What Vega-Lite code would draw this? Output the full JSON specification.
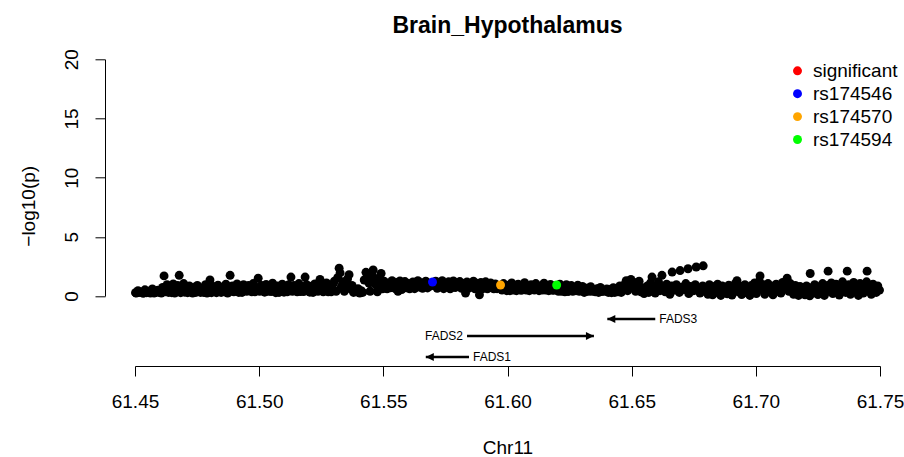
{
  "$schema": "https://vega.github.io/schema/vega-lite/v6.json",
  "width": 745,
  "height": 236.7,
  "autosize": {"type": "none"},
  "padding": {"left": 135, "top": 59.3, "right": 24, "bottom": 161},
  "background": "white",
  "config": {
    "font": "Liberation Sans",
    "view": {"stroke": null},
    "axis": {"labelColor": "black", "titleColor": "black", "domainColor": "black", "tickColor": "black", "grid": false, "labelFont": "Liberation Sans", "titleFont": "Liberation Sans", "titleFontWeight": "normal"}
  },
  "title": {"text": "Brain_Hypothalamus", "fontSize": 23, "fontWeight": "bold", "font": "Liberation Sans", "color": "black", "anchor": "middle", "frame": "group", "baseline": "alphabetic", "offset": -7},
  "datasets": {
    "snps": [
      {"pos":61.4502,"logp":0.28},{"pos":61.4505,"logp":0.25},{"pos":61.4512,"logp":0.45},{"pos":61.4518,"logp":0.30},{"pos":61.4526,"logp":0.33},{"pos":61.4533,"logp":0.22},{"pos":61.4540,"logp":0.52},{"pos":61.4547,"logp":0.28},{"pos":61.4555,"logp":0.40},{"pos":61.4562,"logp":0.25},{"pos":61.4570,"logp":0.60},{"pos":61.4577,"logp":0.25},{"pos":61.4585,"logp":0.30},{"pos":61.4592,"logp":0.48},{"pos":61.4599,"logp":0.30},
      {"pos":61.4606,"logp":0.25},{"pos":61.4611,"logp":0.72},{"pos":61.4617,"logp":1.70},{"pos":61.4622,"logp":0.35},{"pos":61.4629,"logp":0.95},{"pos":61.4635,"logp":0.30},{"pos":61.4641,"logp":0.62},{"pos":61.4648,"logp":0.28},{"pos":61.4654,"logp":1.02},{"pos":61.4660,"logp":0.25},{"pos":61.4666,"logp":0.55},{"pos":61.4672,"logp":0.88},{"pos":61.4678,"logp":1.75},{"pos":61.4684,"logp":0.28},{"pos":61.4690,"logp":0.70},{"pos":61.4696,"logp":1.05},{"pos":61.4700,"logp":0.32},
      {"pos":61.4706,"logp":0.62},{"pos":61.4712,"logp":0.28},{"pos":61.4719,"logp":0.85},{"pos":61.4725,"logp":0.38},{"pos":61.4732,"logp":0.25},{"pos":61.4738,"logp":0.72},{"pos":61.4745,"logp":0.30},{"pos":61.4751,"logp":0.90},{"pos":61.4758,"logp":0.45},{"pos":61.4764,"logp":0.30},{"pos":61.4771,"logp":0.68},{"pos":61.4777,"logp":0.30},{"pos":61.4784,"logp":0.95},{"pos":61.4790,"logp":0.25},{"pos":61.4796,"logp":0.58},{"pos":61.4802,"logp":1.35},{"pos":61.4808,"logp":0.28},{"pos":61.4815,"logp":0.80},{"pos":61.4821,"logp":0.42},{"pos":61.4828,"logp":0.28},{"pos":61.4834,"logp":0.92},{"pos":61.4841,"logp":0.55},{"pos":61.4847,"logp":0.30},{"pos":61.4854,"logp":0.75},{"pos":61.4860,"logp":0.35},{"pos":61.4866,"logp":1.00},{"pos":61.4873,"logp":0.25},{"pos":61.4879,"logp":0.60},
      {"pos":61.4883,"logp":1.75},{"pos":61.4886,"logp":0.40},{"pos":61.4892,"logp":0.85},{"pos":61.4898,"logp":0.35},{"pos":61.4905,"logp":0.65},{"pos":61.4911,"logp":1.02},{"pos":61.4918,"logp":0.30},{"pos":61.4924,"logp":0.78},{"pos":61.4931,"logp":0.30},{"pos":61.4937,"logp":0.95},{"pos":61.4944,"logp":0.48},{"pos":61.4950,"logp":0.40},{"pos":61.4957,"logp":0.88},{"pos":61.4963,"logp":0.58},{"pos":61.4970,"logp":0.35},{"pos":61.4976,"logp":1.05},{"pos":61.4983,"logp":0.35},{"pos":61.4989,"logp":0.72},{"pos":61.4996,"logp":1.50},{"pos":61.5002,"logp":0.40},{"pos":61.5009,"logp":0.90},{"pos":61.5015,"logp":0.55},{"pos":61.5022,"logp":0.32},{"pos":61.5028,"logp":0.98},{"pos":61.5035,"logp":0.40},{"pos":61.5041,"logp":0.70},{"pos":61.5048,"logp":0.38},{"pos":61.5054,"logp":1.08},{"pos":61.5061,"logp":0.50},{"pos":61.5067,"logp":0.28},{"pos":61.5074,"logp":0.85},{"pos":61.5080,"logp":0.30},{"pos":61.5087,"logp":0.62},{"pos":61.5093,"logp":1.00},{"pos":61.5100,"logp":0.32},{"pos":61.5106,"logp":0.75},{"pos":61.5113,"logp":0.35},{"pos":61.5119,"logp":0.95},{"pos":61.5125,"logp":0.45},{"pos":61.5128,"logp":1.60},
      {"pos":61.5134,"logp":0.40},{"pos":61.5140,"logp":0.88},{"pos":61.5147,"logp":0.55},{"pos":61.5153,"logp":0.35},{"pos":61.5160,"logp":1.05},{"pos":61.5166,"logp":0.38},{"pos":61.5173,"logp":0.70},{"pos":61.5179,"logp":0.38},{"pos":61.5185,"logp":1.60},{"pos":61.5191,"logp":0.95},{"pos":61.5198,"logp":0.42},{"pos":61.5204,"logp":0.32},{"pos":61.5211,"logp":0.82},{"pos":61.5217,"logp":0.30},{"pos":61.5224,"logp":1.02},{"pos":61.5230,"logp":0.60},{"pos":61.5237,"logp":0.40},{"pos":61.5243,"logp":0.90},{"pos":61.5245,"logp":1.40},{"pos":61.5252,"logp":0.48},{"pos":61.5258,"logp":0.35},{"pos":61.5265,"logp":0.78},{"pos":61.5271,"logp":1.10},{"pos":61.5278,"logp":0.35},
      {"pos":61.5284,"logp":0.65},{"pos":61.5290,"logp":0.35},{"pos":61.5297,"logp":1.00},{"pos":61.5303,"logp":1.25},{"pos":61.5310,"logp":0.40},{"pos":61.5316,"logp":1.55},{"pos":61.5322,"logp":2.35},{"pos":61.5326,"logp":1.95},{"pos":61.5331,"logp":0.80},{"pos":61.5337,"logp":1.20},{"pos":61.5343,"logp":0.40},{"pos":61.5349,"logp":0.95},{"pos":61.5356,"logp":1.45},{"pos":61.5362,"logp":1.80},{"pos":61.5368,"logp":0.60},{"pos":61.5374,"logp":0.90},{"pos":61.5380,"logp":0.30},
      {"pos":61.5386,"logp":0.50},{"pos":61.5392,"logp":0.35},{"pos":61.5398,"logp":0.62},{"pos":61.5405,"logp":0.25},{"pos":61.5411,"logp":0.45},{"pos":61.5417,"logp":0.30},
      {"pos":61.5423,"logp":1.35},{"pos":61.5430,"logp":2.00},{"pos":61.5436,"logp":1.60},{"pos":61.5442,"logp":1.10},{"pos":61.5447,"logp":0.40},{"pos":61.5453,"logp":1.85},{"pos":61.5459,"logp":2.20},{"pos":61.5465,"logp":1.50},{"pos":61.5470,"logp":0.95},{"pos":61.5476,"logp":0.35},{"pos":61.5482,"logp":1.40},{"pos":61.5487,"logp":1.15},{"pos":61.5491,"logp":1.90},{"pos":61.5497,"logp":0.60},
      {"pos":61.5503,"logp":1.25},{"pos":61.5509,"logp":0.85},{"pos":61.5515,"logp":0.60},{"pos":61.5522,"logp":1.10},{"pos":61.5528,"logp":0.70},{"pos":61.5535,"logp":1.30},{"pos":61.5541,"logp":0.95},{"pos":61.5548,"logp":0.62},{"pos":61.5554,"logp":1.15},{"pos":61.5559,"logp":0.40},{"pos":61.5561,"logp":0.80},{"pos":61.5567,"logp":1.28},{"pos":61.5574,"logp":0.55},{"pos":61.5580,"logp":0.98},{"pos":61.5587,"logp":1.22},{"pos":61.5593,"logp":0.70},{"pos":61.5600,"logp":1.05},{"pos":61.5606,"logp":0.60},{"pos":61.5613,"logp":0.88},{"pos":61.5619,"logp":1.18},{"pos":61.5626,"logp":0.62},{"pos":61.5632,"logp":1.00},{"pos":61.5639,"logp":1.30},{"pos":61.5645,"logp":0.75},{"pos":61.5652,"logp":1.12},{"pos":61.5658,"logp":0.65},{"pos":61.5665,"logp":0.95},{"pos":61.5671,"logp":1.25},{"pos":61.5678,"logp":0.68},{"pos":61.5684,"logp":1.08},{"pos":61.5691,"logp":0.85},
      {"pos":61.5704,"logp":0.90},{"pos":61.5711,"logp":1.25},{"pos":61.5717,"logp":0.65},{"pos":61.5724,"logp":1.10},{"pos":61.5730,"logp":0.80},{"pos":61.5737,"logp":1.30},{"pos":61.5743,"logp":0.62},{"pos":61.5750,"logp":1.05},{"pos":61.5756,"logp":0.85},{"pos":61.5763,"logp":1.20},{"pos":61.5769,"logp":0.60},{"pos":61.5776,"logp":1.00},{"pos":61.5782,"logp":1.28},{"pos":61.5789,"logp":0.72},{"pos":61.5795,"logp":1.12},{"pos":61.5802,"logp":0.90},{"pos":61.5808,"logp":1.22},{"pos":61.5815,"logp":0.65},{"pos":61.5821,"logp":1.05},{"pos":61.5828,"logp":0.80},{"pos":61.5831,"logp":0.25},{"pos":61.5837,"logp":1.18},{"pos":61.5843,"logp":0.65},{"pos":61.5850,"logp":1.00},{"pos":61.5856,"logp":0.85},{"pos":61.5863,"logp":1.25},{"pos":61.5869,"logp":0.60},{"pos":61.5876,"logp":1.08},{"pos":61.5882,"logp":0.75},{"pos":61.5887,"logp":0.10},{"pos":61.5893,"logp":1.15},{"pos":61.5899,"logp":0.60},{"pos":61.5906,"logp":0.95},{"pos":61.5912,"logp":1.20},{"pos":61.5919,"logp":0.60},{"pos":61.5925,"logp":0.88},{"pos":61.5932,"logp":1.10},{"pos":61.5938,"logp":0.70},{"pos":61.5945,"logp":0.60},{"pos":61.5951,"logp":1.02},{"pos":61.5958,"logp":0.62},{"pos":61.5964,"logp":0.85},
      {"pos":61.5978,"logp":0.50},{"pos":61.5984,"logp":1.05},{"pos":61.5991,"logp":0.60},{"pos":61.5997,"logp":0.45},{"pos":61.6004,"logp":0.92},{"pos":61.6010,"logp":0.45},{"pos":61.6017,"logp":1.10},{"pos":61.6023,"logp":0.50},{"pos":61.6030,"logp":0.78},{"pos":61.6036,"logp":0.45},{"pos":61.6043,"logp":1.00},{"pos":61.6049,"logp":0.52},{"pos":61.6056,"logp":0.48},{"pos":61.6062,"logp":0.88},{"pos":61.6069,"logp":1.12},{"pos":61.6075,"logp":0.50},{"pos":61.6082,"logp":0.70},{"pos":61.6088,"logp":0.45},{"pos":61.6095,"logp":0.95},{"pos":61.6101,"logp":0.58},{"pos":61.6108,"logp":0.50},{"pos":61.6114,"logp":1.05},{"pos":61.6121,"logp":0.65},{"pos":61.6127,"logp":0.45},{"pos":61.6134,"logp":0.85},{"pos":61.6140,"logp":0.50},{"pos":61.6147,"logp":1.08},{"pos":61.6153,"logp":0.50},{"pos":61.6160,"logp":0.75},{"pos":61.6166,"logp":0.45},{"pos":61.6173,"logp":0.98},{"pos":61.6179,"logp":0.50},{"pos":61.6186,"logp":0.48},{"pos":61.6192,"logp":0.82},
      {"pos":61.6205,"logp":0.40},{"pos":61.6211,"logp":1.00},{"pos":61.6218,"logp":0.40},{"pos":61.6224,"logp":0.72},{"pos":61.6231,"logp":0.35},{"pos":61.6237,"logp":0.95},{"pos":61.6244,"logp":0.38},{"pos":61.6250,"logp":0.60},{"pos":61.6257,"logp":0.88},{"pos":61.6263,"logp":0.40},{"pos":61.6270,"logp":0.70},{"pos":61.6276,"logp":0.45},{"pos":61.6283,"logp":0.92},{"pos":61.6289,"logp":0.40},{"pos":61.6296,"logp":0.55},{"pos":61.6302,"logp":0.80},{"pos":61.6309,"logp":0.30},{"pos":61.6315,"logp":0.38},{"pos":61.6322,"logp":0.65},{"pos":61.6328,"logp":0.40},{"pos":61.6335,"logp":0.78},{"pos":61.6341,"logp":0.40},{"pos":61.6348,"logp":0.50},{"pos":61.6354,"logp":0.35},{"pos":61.6361,"logp":0.62},{"pos":61.6367,"logp":0.30},{"pos":61.6374,"logp":0.72},{"pos":61.6380,"logp":0.38},{"pos":61.6387,"logp":0.48},{"pos":61.6393,"logp":0.40},{"pos":61.6400,"logp":0.60},
      {"pos":61.6406,"logp":0.30},{"pos":61.6413,"logp":0.55},{"pos":61.6419,"logp":0.28},{"pos":61.6426,"logp":0.70},{"pos":61.6432,"logp":0.30},{"pos":61.6439,"logp":0.62},{"pos":61.6445,"logp":0.35},{"pos":61.6452,"logp":0.85},{"pos":61.6458,"logp":0.30},{"pos":61.6465,"logp":0.58},{"pos":61.6471,"logp":0.95},
      {"pos":61.6478,"logp":1.30},{"pos":61.6484,"logp":0.45},{"pos":61.6491,"logp":1.05},{"pos":61.6497,"logp":1.40},{"pos":61.6504,"logp":0.70},{"pos":61.6510,"logp":1.15},{"pos":61.6516,"logp":0.40},{"pos":61.6523,"logp":0.90},{"pos":61.6530,"logp":1.25},
      {"pos":61.6537,"logp":0.35},{"pos":61.6543,"logp":0.70},{"pos":61.6550,"logp":0.20},{"pos":61.6556,"logp":0.55},{"pos":61.6563,"logp":0.85},{"pos":61.6569,"logp":0.30},{"pos":61.6576,"logp":1.10},{"pos":61.6582,"logp":1.60},{"pos":61.6588,"logp":0.65},{"pos":61.6595,"logp":0.25},{"pos":61.6601,"logp":0.90},{"pos":61.6608,"logp":1.20},{"pos":61.6614,"logp":0.45},{"pos":61.6622,"logp":1.75},{"pos":61.6628,"logp":0.80},{"pos":61.6635,"logp":0.35},{"pos":61.6641,"logp":1.00},{"pos":61.6648,"logp":0.60},{"pos":61.6654,"logp":0.15},{"pos":61.6661,"logp":0.85},{"pos":61.6663,"logp":2.02},{"pos":61.6673,"logp":0.50},{"pos":61.6680,"logp":0.95},{"pos":61.6695,"logp":2.15},{"pos":61.6692,"logp":0.30},{"pos":61.6699,"logp":0.75},{"pos":61.6711,"logp":0.55},{"pos":61.6718,"logp":1.05},{"pos":61.6727,"logp":2.30},{"pos":61.6730,"logp":0.20},{"pos":61.6737,"logp":0.80},{"pos":61.6750,"logp":0.45},{"pos":61.6756,"logp":0.95},{"pos":61.6760,"logp":2.45},{"pos":61.6769,"logp":0.65},{"pos":61.6775,"logp":0.25},{"pos":61.6788,"logp":2.55},{"pos":61.6786,"logp":0.85},{"pos":61.6794,"logp":0.40},
      {"pos":61.6800,"logp":0.70},{"pos":61.6807,"logp":0.15},{"pos":61.6813,"logp":0.95},{"pos":61.6820,"logp":0.45},{"pos":61.6826,"logp":0.10},{"pos":61.6833,"logp":0.80},{"pos":61.6839,"logp":0.30},{"pos":61.6846,"logp":1.00},{"pos":61.6852,"logp":0.55},{"pos":61.6859,"logp":0.05},{"pos":61.6865,"logp":0.85},{"pos":61.6872,"logp":0.40},{"pos":61.6878,"logp":0.68},{"pos":61.6885,"logp":0.18},{"pos":61.6891,"logp":0.92},{"pos":61.6898,"logp":0.50},{"pos":61.6904,"logp":0.08},{"pos":61.6911,"logp":0.75},{"pos":61.6917,"logp":1.05},{"pos":61.6924,"logp":1.30},{"pos":61.6930,"logp":0.35},{"pos":61.6937,"logp":0.82},{"pos":61.6943,"logp":0.12},{"pos":61.6950,"logp":0.60},{"pos":61.6956,"logp":0.95},{"pos":61.6963,"logp":0.28},{"pos":61.6969,"logp":0.70},{"pos":61.6976,"logp":0.05},{"pos":61.6982,"logp":0.88},{"pos":61.6989,"logp":0.45},{"pos":61.6995,"logp":1.10},{"pos":61.7002,"logp":0.20},{"pos":61.7008,"logp":0.78},{"pos":61.7014,"logp":1.25},{"pos":61.7017,"logp":1.70},{"pos":61.7023,"logp":0.55},{"pos":61.7030,"logp":0.95},{"pos":61.7036,"logp":0.15},{"pos":61.7043,"logp":0.70},{"pos":61.7049,"logp":1.05},{"pos":61.7056,"logp":0.35},{"pos":61.7062,"logp":0.85},{"pos":61.7069,"logp":0.10},{"pos":61.7075,"logp":0.62},{"pos":61.7082,"logp":1.00},{"pos":61.7088,"logp":0.40},
      {"pos":61.7095,"logp":0.90},{"pos":61.7101,"logp":0.25},{"pos":61.7108,"logp":1.15},{"pos":61.7114,"logp":0.60},{"pos":61.7121,"logp":0.95},{"pos":61.7126,"logp":1.50},{"pos":61.7133,"logp":0.40},{"pos":61.7139,"logp":1.05},{"pos":61.7146,"logp":0.75},{"pos":61.7152,"logp":0.15},{"pos":61.7159,"logp":0.90},{"pos":61.7165,"logp":0.50},{"pos":61.7172,"logp":0.05},{"pos":61.7178,"logp":0.80},{"pos":61.7185,"logp":0.30},{"pos":61.7191,"logp":0.65},{"pos":61.7198,"logp":0.10},{"pos":61.7204,"logp":0.85},{"pos":61.7211,"logp":0.40},{"pos":61.7217,"logp":0.02},{"pos":61.7219,"logp":1.90},{"pos":61.7224,"logp":0.70},{"pos":61.7230,"logp":0.25},{"pos":61.7237,"logp":0.95},{"pos":61.7243,"logp":0.50},{"pos":61.7250,"logp":0.12},{"pos":61.7256,"logp":0.78},{"pos":61.7263,"logp":0.35},{"pos":61.7269,"logp":1.05},{"pos":61.7276,"logp":0.05},{"pos":61.7282,"logp":0.60},{"pos":61.7289,"logp":0.90},{"pos":61.7291,"logp":2.10},{"pos":61.7297,"logp":0.40},{"pos":61.7304,"logp":1.10},{"pos":61.7310,"logp":0.20},{"pos":61.7317,"logp":0.75},{"pos":61.7323,"logp":1.00},{"pos":61.7330,"logp":0.45},{"pos":61.7336,"logp":0.08},{"pos":61.7343,"logp":0.88},{"pos":61.7349,"logp":1.20},{"pos":61.7356,"logp":0.55},{"pos":61.7362,"logp":0.30},{"pos":61.7368,"logp":2.10},{"pos":61.7374,"logp":0.95},{"pos":61.7381,"logp":0.15},{"pos":61.7387,"logp":0.70},{"pos":61.7394,"logp":1.15},{"pos":61.7400,"logp":0.40},{"pos":61.7407,"logp":0.85},{"pos":61.7413,"logp":0.05},{"pos":61.7420,"logp":1.05},{"pos":61.7426,"logp":0.60},{"pos":61.7433,"logp":0.25},{"pos":61.7439,"logp":0.92},{"pos":61.7446,"logp":1.20},{"pos":61.7448,"logp":2.10},{"pos":61.7452,"logp":0.45},{"pos":61.7459,"logp":0.80},{"pos":61.7465,"logp":0.15},{"pos":61.7472,"logp":1.00},{"pos":61.7478,"logp":0.60},{"pos":61.7485,"logp":0.30},{"pos":61.7491,"logp":0.85},{"pos":61.7498,"logp":0.50}
    ],
    "lead": [
      {"pos":61.5698,"logp":1.18,"snp":"rs174546"},
      {"pos":61.5972,"logp":0.93,"snp":"rs174570"},
      {"pos":61.6198,"logp":0.93,"snp":"rs174594"}
    ],
    "genes": [
      {"gene":"FADS1","start":61.5671,"end":61.5845,"strand":"-","row":-5.16},
      {"gene":"FADS2","start":61.5837,"end":61.6348,"strand":"+","row":-3.38},
      {"gene":"FADS3","start":61.6402,"end":61.6595,"strand":"-","row":-1.94}
    ]
  },
  "layer": [
    {
      "data": {"name": "snps"},
      "mark": {"type": "point", "shape": "circle", "filled": true, "size": 80, "color": "black", "opacity": 1},
      "encoding": {
        "x": {"field": "pos", "type": "quantitative", "title": "Chr11",
          "scale": {"domain": [61.45, 61.75], "nice": false, "zero": false},
          "axis": {"orient": "bottom", "offset": 70, "values": [61.45, 61.5, 61.55, 61.6, 61.65, 61.7, 61.75], "format": ".2f",
            "tickSize": 10, "labelFontSize": 19, "labelPadding": 31, "labelBaseline": "alphabetic", "labelFlush": false,
            "titleFontSize": 19, "titleBaseline": "alphabetic", "titleY": 87, "titleX": 372.5}},
        "y": {"field": "logp", "type": "quantitative", "title": "\u2212log10(p)",
          "scale": {"domain": [0, 20], "nice": false, "zero": false},
          "axis": {"orient": "left", "offset": 30, "values": [0, 5, 10, 15, 20], "tickSize": 10,
            "labelFontSize": 19, "labelAngle": 270, "labelAlign": "center", "labelBaseline": "alphabetic", "labelPadding": 18,
            "titleFontSize": 19, "titleAngle": 270, "titleBaseline": "alphabetic", "titleAlign": "center", "titleX": -71, "titleY": 146.5}}
      }
    },
    {
      "data": {"name": "lead"},
      "mark": {"type": "point", "shape": "circle", "filled": true, "size": 80, "opacity": 1},
      "encoding": {
        "x": {"field": "pos", "type": "quantitative"},
        "y": {"field": "logp", "type": "quantitative"},
        "color": {"field": "snp", "type": "nominal",
          "scale": {"domain": ["significant", "rs174546", "rs174570", "rs174594"], "range": ["#ff0000", "#0000ff", "#ffa500", "#00ff00"]},
          "legend": {"title": null, "orient": "none", "legendX": 653, "legendY": 2, "padding": 0,
            "symbolType": "circle", "symbolSize": 80, "symbolStrokeWidth": 0, "symbolOpacity": 1,
            "labelFontSize": 19, "labelFont": "Liberation Sans", "labelColor": "black", "labelOffset": 6, "rowPadding": 2.9}}
      }
    },
    {
      "data": {"name": "genes"},
      "mark": {"type": "rule", "color": "black", "strokeWidth": 2.5},
      "encoding": {
        "x": {"field": "start", "type": "quantitative"},
        "x2": {"field": "end"},
        "y": {"field": "row", "type": "quantitative"}
      }
    },
    {
      "data": {"name": "genes"},
      "transform": [{"filter": "datum.strand === '-'"}],
      "mark": {"type": "point", "shape": "M0,0L2,-1L2,1Z", "filled": true, "size": 64, "color": "black", "opacity": 1},
      "encoding": {
        "x": {"field": "start", "type": "quantitative"},
        "y": {"field": "row", "type": "quantitative"}
      }
    },
    {
      "data": {"name": "genes"},
      "transform": [{"filter": "datum.strand === '+'"}],
      "mark": {"type": "point", "shape": "M0,0L-2,-1L-2,1Z", "filled": true, "size": 64, "color": "black", "opacity": 1},
      "encoding": {
        "x": {"field": "end", "type": "quantitative"},
        "y": {"field": "row", "type": "quantitative"}
      }
    },
    {
      "data": {"name": "genes"},
      "transform": [{"filter": "datum.strand === '-'"}],
      "mark": {"type": "text", "align": "left", "baseline": "middle", "dx": 4, "fontSize": 12, "font": "Liberation Sans", "color": "black"},
      "encoding": {
        "x": {"field": "end", "type": "quantitative"},
        "y": {"field": "row", "type": "quantitative"},
        "text": {"field": "gene"}
      }
    },
    {
      "data": {"name": "genes"},
      "transform": [{"filter": "datum.strand === '+'"}],
      "mark": {"type": "text", "align": "right", "baseline": "middle", "dx": -4, "fontSize": 12, "font": "Liberation Sans", "color": "black"},
      "encoding": {
        "x": {"field": "start", "type": "quantitative"},
        "y": {"field": "row", "type": "quantitative"},
        "text": {"field": "gene"}
      }
    }
  ]
}
